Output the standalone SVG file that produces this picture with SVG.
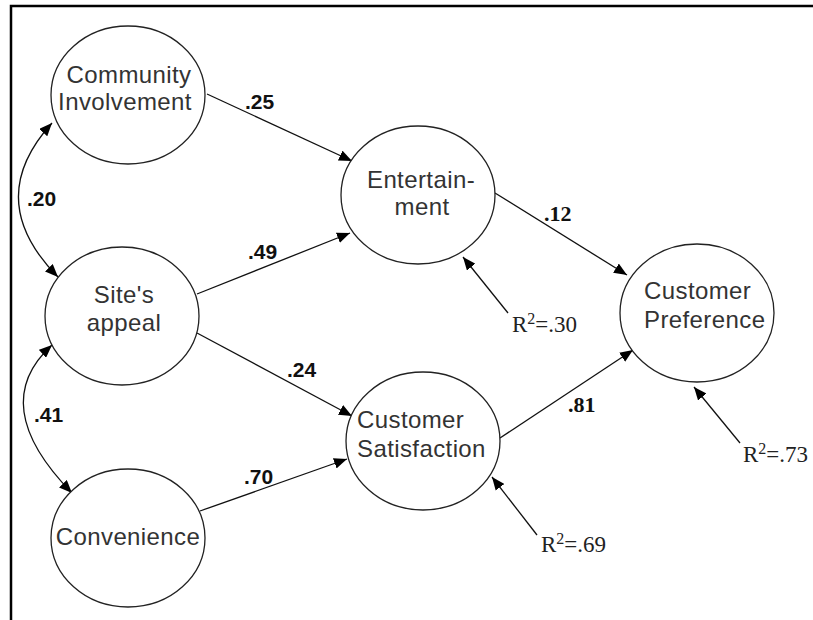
<svg xmlns="http://www.w3.org/2000/svg" width="813" height="620" viewBox="0 0 813 620">
<style>
.node ellipse{fill:#fff;stroke:#222;stroke-width:1.3}
.lbl{font-family:"Liberation Sans",Arial,sans-serif;font-size:24px;letter-spacing:0.4px;fill:#333}
.w{font-family:"Liberation Sans",Arial,sans-serif;font-size:21px;font-weight:bold;fill:#111}
.ws{font-family:"Liberation Serif","Times New Roman",serif;font-size:22px;font-weight:bold;fill:#111}
.r2{font-family:"Liberation Serif","Times New Roman",serif;font-size:23px;fill:#222}
.conn path,.conn line{fill:none;stroke:#111;stroke-width:1.3}
</style>
<defs>
<marker id="ah" viewBox="0 0 12 10" refX="12" refY="5" markerWidth="13" markerHeight="11" markerUnits="userSpaceOnUse" orient="auto-start-reverse">
<path d="M0,0 L12,5 L0,10 Z" fill="#000"/>
</marker>
</defs>
<rect width="813" height="620" fill="#fff"/>
<path d="M11,620 V6 H813" fill="none" stroke="#000" stroke-width="2.5"/>
<g class="conn">
<line x1="207" y1="94" x2="352" y2="161" marker-end="url(#ah)"/>
<line x1="197" y1="294" x2="350" y2="233" marker-end="url(#ah)"/>
<line x1="197" y1="333" x2="352" y2="416" marker-end="url(#ah)"/>
<line x1="200" y1="511" x2="347" y2="459" marker-end="url(#ah)"/>
<line x1="495" y1="193" x2="627" y2="275" marker-end="url(#ah)"/>
<line x1="500" y1="438" x2="633" y2="350" marker-end="url(#ah)"/>
<line x1="508" y1="313" x2="463" y2="257" marker-end="url(#ah)"/>
<line x1="740" y1="443" x2="694" y2="387" marker-end="url(#ah)"/>
<line x1="537" y1="535" x2="492" y2="477" marker-end="url(#ah)"/>
<path d="M52,123 Q-18,200 58,277" marker-start="url(#ah)" marker-end="url(#ah)"/>
<path d="M52,345 Q-14,405 72,493" marker-start="url(#ah)" marker-end="url(#ah)"/>
<text class="w" x="245" y="109">.25</text>
<text class="w" x="27" y="206">.20</text>
<text class="w" x="248" y="259">.49</text>
<text class="w" x="287" y="377">.24</text>
<text class="w" x="34" y="422">.41</text>
<text class="w" x="244" y="484">.70</text>
<text class="ws" x="544" y="221">.12</text>
<text class="ws" x="568" y="412">.81</text>
<text class="r2" x="512" y="332">R<tspan font-size="16" dy="-8">2</tspan><tspan dy="8">=.30</tspan></text>
<text class="r2" x="541" y="552">R<tspan font-size="16" dy="-8">2</tspan><tspan dy="8">=.69</tspan></text>
<text class="r2" x="743" y="462">R<tspan font-size="16" dy="-8">2</tspan><tspan dy="8">=.73</tspan></text>
</g>
<g id="community" class="node">
<ellipse cx="128" cy="95" rx="77" ry="69"/>
<text class="lbl" x="129" y="83" text-anchor="middle">Community</text>
<text class="lbl" x="125" y="110" text-anchor="middle">Involvement</text>
</g>
<g id="site" class="node">
<ellipse cx="122" cy="316" rx="77" ry="69"/>
<text class="lbl" x="124" y="303" text-anchor="middle">Site's</text>
<text class="lbl" x="124" y="331" text-anchor="middle">appeal</text>
</g>
<g id="convenience" class="node">
<ellipse cx="128" cy="538" rx="77" ry="69"/>
<text class="lbl" x="128" y="545" text-anchor="middle">Convenience</text>
</g>
<g id="entertainment" class="node">
<ellipse cx="418" cy="195" rx="77" ry="69"/>
<text class="lbl" x="421" y="188" text-anchor="middle">Entertain-</text>
<text class="lbl" x="422" y="215" text-anchor="middle">ment</text>
</g>
<g id="satisfaction" class="node">
<ellipse cx="423" cy="441" rx="77" ry="69"/>
<text class="lbl" x="357" y="428">Customer</text>
<text class="lbl" x="357" y="457">Satisfaction</text>
</g>
<g id="preference" class="node">
<ellipse cx="697" cy="313" rx="77" ry="69"/>
<text class="lbl" x="644" y="299">Customer</text>
<text class="lbl" x="644" y="328">Preference</text>
</g>
</svg>
